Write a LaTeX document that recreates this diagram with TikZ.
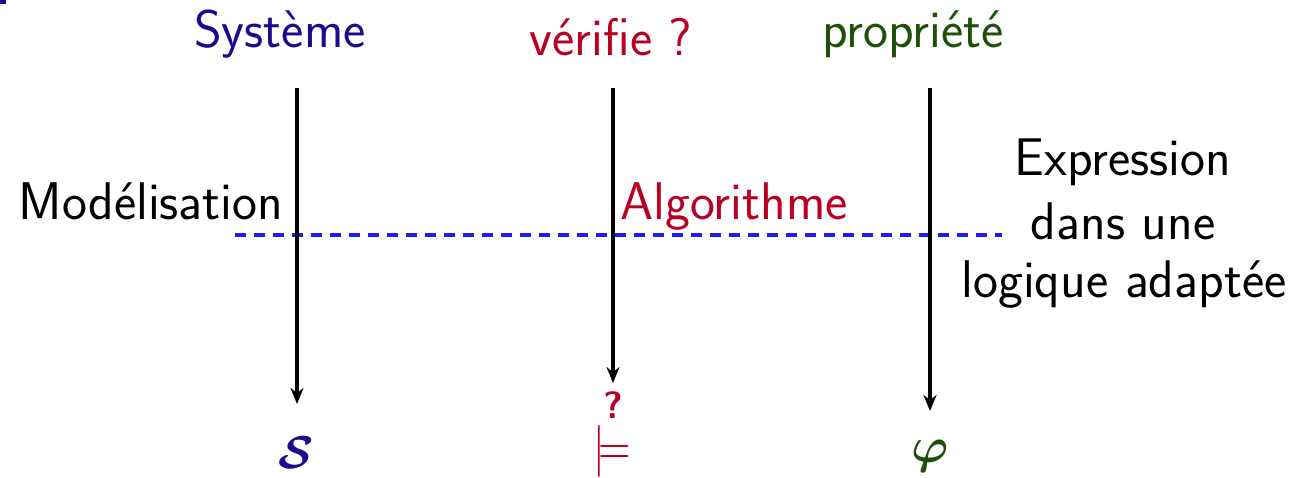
\documentclass[tikz,border=0pt]{standalone}
\usepackage{graphicx}
\usetikzlibrary{arrows.meta}
\definecolor{sysblue}{RGB}{30,10,140}
\definecolor{verred}{RGB}{185,0,35}
\definecolor{propgreen}{RGB}{30,80,10}
\definecolor{dashblue}{RGB}{30,30,240}
\begin{document}
\begin{tikzpicture}[x=1pt,y=-1pt,
  every node/.style={font=\fontsize{53}{60}\selectfont\sffamily, inner sep=0pt},
  lbl/.style={anchor=base},
  vline/.style={line width=4pt, -{Stealth[length=16pt,width=13pt]}},
  sep/.style={dashblue, line width=4pt, dash pattern=on 11pt off 8pt}]
\useasboundingbox (0,0) rectangle (1291,477);
\fill[sysblue] (0,0) rectangle (6,4);
% titles
\node[lbl, text=sysblue] (sys) at (280,47) {Système};
\node[lbl, text=verred] (ver) at (611,55) {vérifie ?};
\node[lbl, text=propgreen] (prop) at (913,47) {propriété};
% top coordinates of arrows
\coordinate (t1) at (297,88);
\coordinate (t2) at (613,88);
\coordinate (t3) at (930,88);
% bottom symbols
\node[text=sysblue, font=\normalsize\mathversion{bold}] (S) at (296,453) {\scalebox{4.6}{$\mathcal{S}$}};
\node[text=verred, font=\fontsize{38}{44}\selectfont\sffamily\bfseries] (q) at (613,405) {?};
\node[text=verred, font=\normalsize] (models) at (612,451) {\scalebox{4.2}[5.2]{$\models$}};
\node[text=propgreen, font=\normalsize\mathversion{bold}] (phi) at (930,456) {\scalebox{5}{$\varphi$}};
\coordinate (b1) at (297,404);
\coordinate (b2) at (613,383);
\coordinate (b3) at (930,411);
% dashed separator
\coordinate (d1) at (235,235);
\coordinate (d2) at (1002,235);
\draw[sep] (d1) -- (d2);
% arrows
\draw[vline] (t1) -- (b1);
\draw[vline] (t2) -- (b2);
\draw[vline] (t3) -- (b3);
% labels
\node[lbl] (mod) at (151,219) {Modélisation};
\node[lbl, text=verred] (alg) at (734,219) {Algorithme};
\node[lbl] (e1) at (1123,175) {Expression};
\node[lbl] (e2) at (1123,239) {dans une};
\node[lbl] (e3) at (1124,297) {logique adaptée};
\end{tikzpicture}
\end{document}
